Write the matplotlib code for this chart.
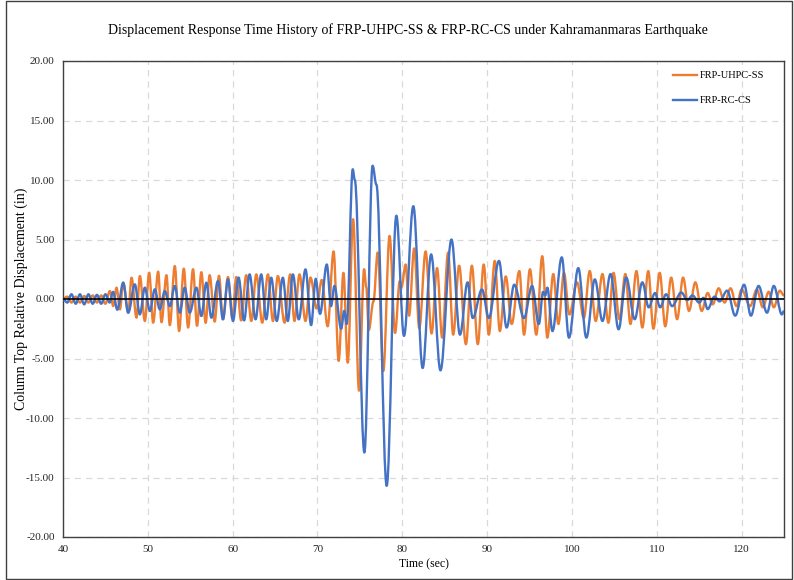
import matplotlib
matplotlib.use("Agg")
import matplotlib.pyplot as plt
from matplotlib.patches import Rectangle, PathPatch
from matplotlib.path import Path
from matplotlib.lines import Line2D

# ---- data (extrema) ----
uhpc_t = [40.0, 40.5, 41.0, 41.5, 42.0, 42.5, 43.0, 43.5, 44.0, 44.5, 45.0,
          45.53, 45.92, 46.31, 46.71, 47.1, 47.69, 48.08, 48.67, 49.06, 49.65,
          50.16, 50.63, 51.22, 51.61, 52.2, 52.59, 53.18, 53.69, 54.24, 54.75,
          55.33, 55.8, 56.31, 56.82, 57.29, 57.88, 58.39, 58.86, 59.45, 59.96,
          60.43, 61.0, 61.6, 62.2, 62.79, 63.49, 64.16, 64.75, 65.33, 66.12,
          66.78, 67.29, 67.88, 68.59, 69.18, 69.9, 70.5, 71.2, 71.9, 72.5,
          73.06, 73.57, 74.2, 74.9, 75.5, 75.75, 76.05, 76.6, 77.1, 77.76,
          78.5, 79.15, 79.7, 79.9, 80.4, 80.8, 81.4, 82.0, 82.75, 83.45,
          84.1, 84.7, 85.4, 86.0, 86.7, 87.5, 88.2, 88.9, 89.6, 90.2,
          90.9, 91.5, 92.2, 92.9, 93.8, 94.35, 95.05, 95.8, 96.5, 97.1,
          97.8, 98.4, 99.06, 99.7, 100.6, 101.4, 102.1, 102.8, 103.6, 104.3,
          104.9, 105.6, 106.3, 106.9, 107.6, 108.3, 109.0, 109.6, 110.35, 111.0,
          111.7, 112.4, 113.1, 113.8, 114.55, 115.3, 116.0, 116.6, 117.3, 118.0,
          118.7, 119.4, 120.0, 121.0, 121.8, 122.5, 123.2, 123.8, 124.5, 125.0]
uhpc_v = [0.0, 0.2, -0.3, 0.2, -0.3, 0.25, -0.3, 0.3, -0.3, 0.3, -0.4,
          0.67, -0.59, 0.95, -0.87, 1.37, -1.15, 1.79, -1.57, 1.93, -1.85,
          2.21, -1.99, 2.3, -1.95, 2.0, -2.2, 2.77, -2.69, 2.55, -2.4,
          2.5, -2.25, 2.25, -2.0, 2.0, -1.9, 1.95, -1.7, 1.85, -1.6,
          1.85, -1.8, 2.0, -1.85, 2.07, -1.99, 2.07, -1.85, 1.93, -1.99,
          2.07, -1.85, 2.07, -1.85, 1.8, -0.8, 1.6, -2.3, 4.0, -5.2,
          2.2, -5.35, 6.7, -7.7, 2.5, 1.0, -2.6, -0.2, 3.9, -6.05,
          5.3, -2.85, 1.5, 1.0, 2.9, -1.4, 4.25, -2.45, 4.0, -2.9,
          2.6, -3.25, 3.9, -3.0, 2.8, -3.8, 2.8, -3.8, 2.9, -3.0,
          3.2, -2.7, 1.9, -2.1, 2.35, -3.0, 2.5, -3.0, 3.6, -3.25,
          2.1, -2.1, 2.2, -1.3, 1.4, -1.6, 2.35, -1.85, 2.1, -2.0,
          2.2, -1.7, 2.1, -2.1, 2.35, -2.4, 2.35, -2.5, 2.2, -2.3,
          1.8, -1.7, 1.8, -1.0, 1.4, -1.0, 0.5, -0.45, 0.9, -0.3,
          0.9, -0.6, 0.8, -0.6, 0.8, -0.7, 0.6, -0.7, 0.7, 0.3]

rc_t = [40.0, 40.5, 41.0, 41.5, 42.0, 42.5, 43.0, 43.5, 44.0, 44.5, 45.0,
        45.5, 45.9, 46.4, 47.1, 47.69, 48.47, 49.06, 49.65, 50.24, 50.82,
        51.41, 52.0, 52.59, 53.18, 53.77, 54.35, 54.94, 55.73, 56.31, 56.9,
        57.49, 58.27, 58.86, 59.45, 60.04, 60.7, 61.35, 62.0, 62.7, 63.37,
        63.96, 64.55, 65.2, 65.92, 66.5, 67.1, 67.8, 68.59, 69.25, 69.8,
        70.3, 71.1, 71.6, 72.0, 72.8, 73.15, 73.45, 74.16, 74.4, 75.53,
        76.5, 76.95, 78.16, 79.3, 80.2, 81.3, 82.4, 83.4, 84.5, 85.8,
        86.8, 87.7, 88.3, 89.4, 90.2, 91.4, 92.3, 93.2, 94.35, 95.3,
        96.1, 96.6, 96.85, 97.1, 97.7, 98.8, 99.65, 100.75, 101.7, 102.7,
        103.6, 104.55, 105.5, 106.4, 107.4, 108.3, 109.05, 109.8, 110.4, 111.1,
        111.8, 112.9, 113.6, 114.2, 115.0, 115.5, 116.0, 116.8, 117.4, 118.3,
        119.25, 120.3, 121.1, 122.0, 123.0, 123.8, 124.75, 125.0]
rc_v = [0.0, -0.3, 0.4, -0.4, 0.4, -0.45, 0.4, -0.4, 0.35, -0.4, 0.4,
        -0.3, 0.6, -0.9, 1.37, -1.15, 1.23, -1.29, 0.95, -1.01, 0.81,
        -0.87, 0.67, -0.6, 1.09, -1.15, 0.95, -1.15, 0.95, -1.43, 1.37,
        -1.57, 1.51, -1.71, 1.65, -1.85, 1.8, -1.8, 2.07, -1.71, 2.07,
        -1.71, 1.79, -1.85, 1.79, -1.85, 2.07, -1.71, 2.49, -2.2, 1.7,
        -1.25, 2.9, -0.6, 1.1, -2.5, -1.0, -2.1, 10.9, 10.0, -12.9,
        11.2, 9.6, -15.7, 7.0, -3.1, 7.8, -5.8, 3.75, -6.0, 5.0,
        -3.0, 1.4, -1.6, 0.8, -1.6, 3.2, -2.4, 1.2, -1.6, 1.1,
        -2.1, 0.6, 0.3, 0.95, -2.7, 3.5, -3.25, 2.6, -3.25, 1.65,
        -1.85, 2.1, -2.55, 1.8, -1.7, 1.4, -0.7, 0.5, -0.7, 0.4,
        -0.6, 0.55, -0.1, 0.3, -0.3, 0.1, -0.85, 0.2, -0.2, 0.7,
        -1.4, 1.2, -1.4, 1.1, -1.15, 1.1, -1.3, -1.0]

series_names = ["FRP-UHPC-SS", "FRP-RC-CS"]
x_ticks = [40, 50, 60, 70, 80, 90, 100, 110, 120]
y_ticks = [-20, -15, -10, -5, 0, 5, 10, 15, 20]

title = "Displacement Response Time History of FRP-UHPC-SS & FRP-RC-CS under Kahramanmaras Earthquake"
xlabel = "Time (sec)"
ylabel = "Column Top Relative Displacement (in)"


def smoothed_path(t, v, k=0.363):
    """Excel-style smoothed line: cubic Bezier segments between the read points."""
    verts = [(t[0], v[0])]
    codes = [Path.MOVETO]
    for i in range(len(t) - 1):
        dt = t[i + 1] - t[i]
        verts += [(t[i] + k * dt, v[i]), (t[i + 1] - k * dt, v[i + 1]),
                  (t[i + 1], v[i + 1])]
        codes += [Path.CURVE4] * 3
    return Path(verts, codes)


# ---- figure ----
plt.rcParams['font.family'] = ['Liberation Serif', 'DejaVu Serif']
W, H = 794, 580
fig = plt.figure(figsize=(W / 100, H / 100), dpi=100)
ax = fig.add_axes([63 / W, 1 - 537 / H, (784 - 63) / W, (537 - 61) / H])

ORANGE = "#ED7D31"
BLUE = "#4472C4"
LW = 1.7

ax.add_patch(PathPatch(smoothed_path(uhpc_t, uhpc_v), facecolor="none",
                       edgecolor=ORANGE, lw=LW, zorder=2, joinstyle="round"))
ax.add_patch(PathPatch(smoothed_path(rc_t, rc_v), facecolor="none",
                       edgecolor=BLUE, lw=LW, zorder=3, joinstyle="round"))
ax.axhline(0, color="black", lw=1.2, zorder=4)

ax.set_xlim(40, 125)
ax.set_ylim(-20, 20)
ax.set_xticks(x_ticks)
ax.set_yticks(y_ticks)
ax.set_yticklabels([f"{v:.2f}" for v in y_ticks])
ax.tick_params(length=0, labelsize=8, colors="#262626", pad=6)
ax.grid(True, color="#D9D9D9", lw=0.9, ls=(0, (5, 4)))
ax.set_axisbelow(True)
for s in ax.spines.values():
    s.set_color("#404040")
    s.set_linewidth(1.0)

ax.set_xlabel(xlabel, fontsize=8.5, labelpad=3)
ax.set_ylabel(ylabel, fontsize=10)
ax.yaxis.set_label_coords((28 - 63) / (784 - 63), 0.5)

fig.text(408 / W, 1 - 30 / H, title, ha="center", va="center", fontsize=10)

handles = [Line2D([], [], color=ORANGE, lw=LW), Line2D([], [], color=BLUE, lw=LW)]
ax.legend(handles, series_names, loc="upper left",
          bbox_to_anchor=(673 / W, 1 - 71 / H), bbox_transform=fig.transFigure,
          frameon=False, fontsize=7.5, handlelength=2.3, handletextpad=0.3,
          labelspacing=1.5, borderpad=0, borderaxespad=0)

fig.patches.append(Rectangle((6 / W, 1 / H), (792 - 6) / W, (579 - 1) / H,
                             transform=fig.transFigure, fill=False,
                             edgecolor="#404040", lw=1.0))

fig.savefig("out.png", dpi=100)
